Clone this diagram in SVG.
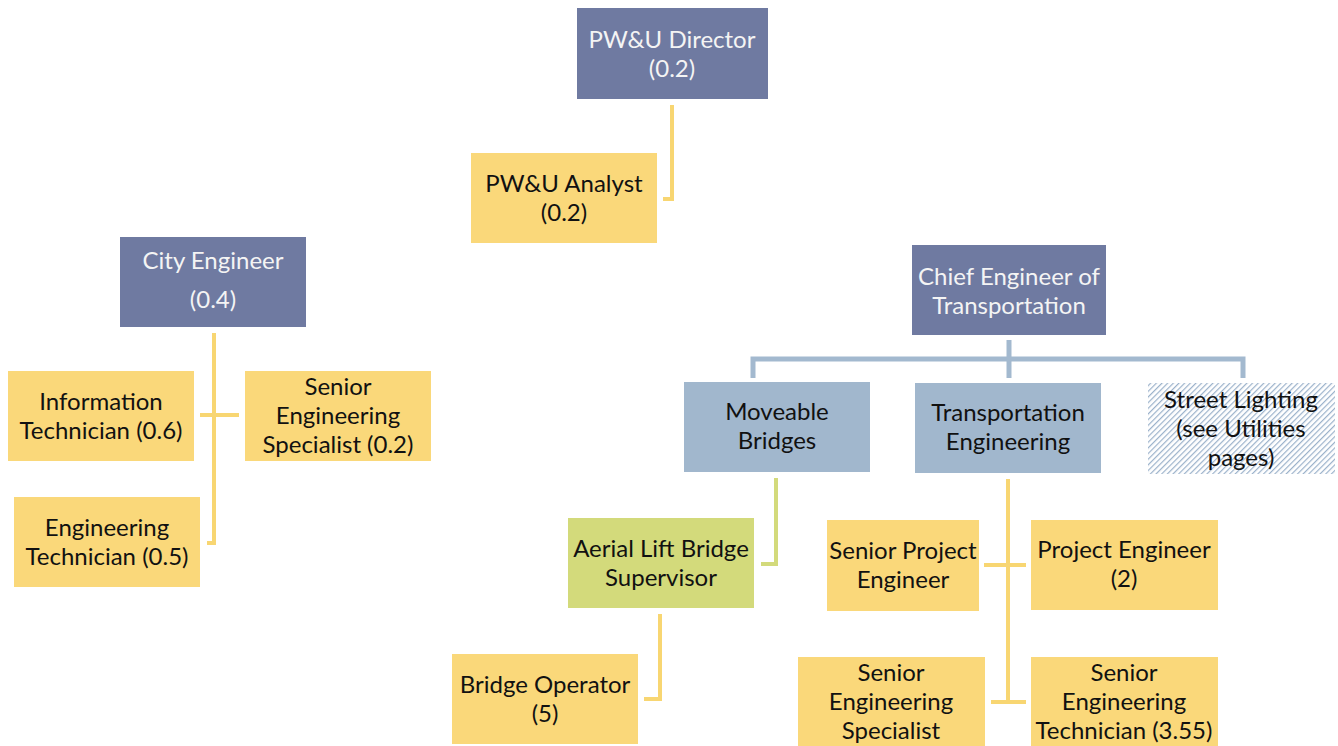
<svg xmlns="http://www.w3.org/2000/svg" width="1338" height="746" viewBox="0 0 1338 746">
<defs>
<pattern id="hatch" patternUnits="userSpaceOnUse" width="4" height="4" patternTransform="rotate(-45)">
<rect width="4" height="4" fill="#ffffff"/>
<rect width="4" height="1.2" fill="#9bb2cb"/>
</pattern>
</defs>
<style>
.dark{fill:#6f7aa1}
.blue{fill:#a1b7cd}
.yel{fill:#fad87a}
.grn{fill:#d3da7b}
.hat{fill:url(#hatch)}
text{font-family:Lato,"Liberation Sans",sans-serif;font-size:24px;text-anchor:middle}
.w{fill:#f4f4f4}
.k{fill:#111}
.cy{fill:none;stroke:#f8d672;stroke-width:4}
.cg{fill:none;stroke:#d3da7b;stroke-width:4}
.cb{fill:none;stroke:#a3b9cf;stroke-width:5}
</style>
<g id="connectors">
<path class="cy" d="M672 105 V199 H663"/>
<path class="cy" d="M214 333 V543 H207 M200 415 H239"/>
<path class="cb" d="M1009 340 V359 M753 378 V359 H1243 V378 M1009 359 V378"/>
<path class="cg" d="M776 478 V564 H761"/>
<path class="cy" d="M660 614 V699 H644"/>
<path class="cy" d="M1008 479 V703 M984 565 H1026 M991 702 H1026"/>
</g>
<g id="director"><rect class="dark" x="577" y="8" width="191" height="91"/><text class="w" x="672" y="48">PW&amp;U Director</text><text class="w" x="672" y="77">(0.2)</text></g>
<g id="analyst"><rect class="yel" x="471" y="153" width="186" height="90"/><text class="k" x="564" y="192">PW&amp;U Analyst</text><text class="k" x="564" y="221">(0.2)</text></g>
<g id="city-engineer"><rect class="dark" x="120" y="237" width="186" height="90"/><text class="w" x="213" y="269">City Engineer</text><text class="w" x="213" y="308">(0.4)</text></g>
<g id="info-tech"><rect class="yel" x="8" y="371" width="186" height="90"/><text class="k" x="101" y="410">Information</text><text class="k" x="101" y="439">Technician (0.6)</text></g>
<g id="sr-eng-spec-city"><rect class="yel" x="245" y="371" width="186" height="90"/><text class="k" x="338" y="395">Senior</text><text class="k" x="338" y="424">Engineering</text><text class="k" x="338" y="453">Specialist (0.2)</text></g>
<g id="eng-tech"><rect class="yel" x="14" y="497" width="186" height="90"/><text class="k" x="107" y="536">Engineering</text><text class="k" x="107" y="565">Technician (0.5)</text></g>
<g id="chief-engineer"><rect class="dark" x="912" y="245" width="194" height="90"/><text class="w" x="1009" y="285">Chief Engineer of</text><text class="w" x="1009" y="314">Transportation</text></g>
<g id="moveable-bridges"><rect class="blue" x="684" y="382" width="186" height="90"/><text class="k" x="777" y="420">Moveable</text><text class="k" x="777" y="449">Bridges</text></g>
<g id="transportation-engineering"><rect class="blue" x="915" y="383" width="186" height="90"/><text class="k" x="1008" y="421">Transportation</text><text class="k" x="1008" y="450">Engineering</text></g>
<g id="street-lighting"><rect class="hat" x="1148" y="383" width="187" height="91"/><text class="k" x="1241" y="408">Street Lighting</text><text class="k" x="1241" y="437">(see Utilities</text><text class="k" x="1241" y="466">pages)</text></g>
<g id="aerial-lift"><rect class="grn" x="568" y="518" width="186" height="90"/><text class="k" x="661" y="557">Aerial Lift Bridge</text><text class="k" x="661" y="586">Supervisor</text></g>
<g id="bridge-operator"><rect class="yel" x="452" y="654" width="186" height="90"/><text class="k" x="545" y="693">Bridge Operator</text><text class="k" x="545" y="722">(5)</text></g>
<g id="sr-project-engineer"><rect class="yel" x="827" y="520" width="152" height="91"/><text class="k" x="903" y="559">Senior Project</text><text class="k" x="903" y="588">Engineer</text></g>
<g id="project-engineer"><rect class="yel" x="1031" y="520" width="187" height="90"/><text class="k" x="1124" y="558">Project Engineer</text><text class="k" x="1124" y="587">(2)</text></g>
<g id="sr-eng-spec"><rect class="yel" x="798" y="657" width="187" height="89"/><text class="k" x="891" y="681">Senior</text><text class="k" x="891" y="710">Engineering</text><text class="k" x="891" y="739">Specialist</text></g>
<g id="sr-eng-tech"><rect class="yel" x="1031" y="657" width="187" height="89"/><text class="k" x="1124" y="681">Senior</text><text class="k" x="1124" y="710">Engineering</text><text class="k" x="1124" y="739">Technician (3.55)</text></g>
</svg>
